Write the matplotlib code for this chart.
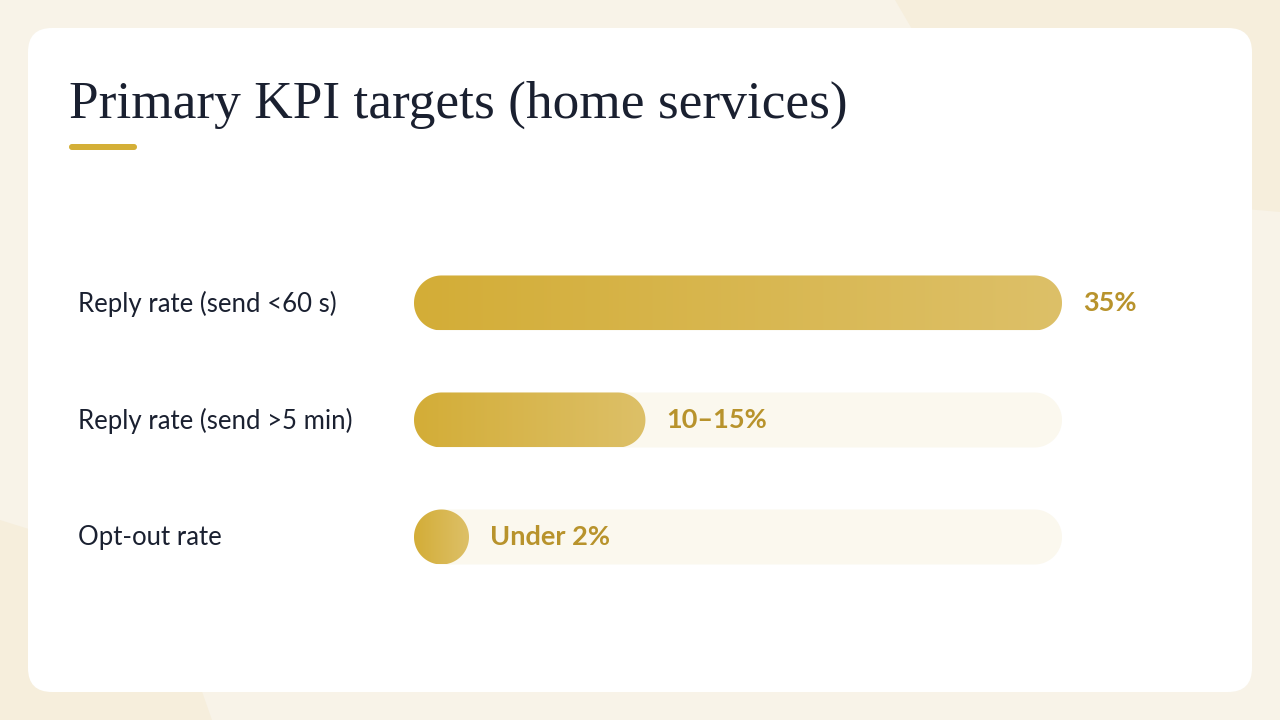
import numpy as np
import matplotlib.pyplot as plt
from matplotlib.patches import FancyBboxPatch, Polygon
from matplotlib.colors import LinearSegmentedColormap

# data
labels = ['Reply rate (send <60 s)', 'Reply rate (send >5 min)', 'Opt-out rate']
values = [35, 12.5, 2]          # midpoint used for the 10-15% range
value_text = ['35%', '10\u201315%', 'Under 2%']
scale_max = 35
title = 'Primary KPI targets (home services)'

GOLD_L = '#d3ad37'
GOLD_R = '#ddc068'
TRACK = '#fbf8ee'
VALUE_COL = '#b8932c'
INK = '#1a2030'

W, H = 1280, 720
fig = plt.figure(figsize=(W / 100, H / 100), dpi=100)
fig.patch.set_facecolor('#f8f3e8')

# background layer in pixel coords
bg = fig.add_axes([0, 0, 1, 1])
bg.set_xlim(0, W)
bg.set_ylim(H, 0)
bg.axis('off')
bg.add_patch(Polygon([[895, 0], [1280, 0], [1280, 212], [1200, 205], [1000, 150], [930, 60]],
                     closed=True, fc='#f6eedc', ec='none'))
bg.add_patch(Polygon([[0, 520], [80, 545], [170, 600], [212, 720], [0, 720]],
                     closed=True, fc='#f6eedc', ec='none'))
bg.add_patch(FancyBboxPatch((28, 28), 1224, 664, boxstyle='round,pad=0,rounding_size=24',
                            fc='white', ec='none'))

bg.text(69, 118, title, fontsize=38.4, family='Liberation Serif', color=INK,
        va='baseline', ha='left')
bg.add_patch(FancyBboxPatch((69, 144), 68, 6, boxstyle='round,pad=0,rounding_size=3',
                            fc='#d4af37', ec='none'))

# bars
ax_l, ax_r = 414, 1062
row_gap = 117
ax_top = 303 - row_gap / 2
ax = fig.add_axes([ax_l / W, 1 - (ax_top + 3 * row_gap) / H, (ax_r - ax_l) / W, 3 * row_gap / H])
ax.axis('off')

bar_h = 55 / row_gap
rx = 27.5 * scale_max / (ax_r - ax_l)   # end-cap radius in data x units
ry = bar_h / 2


def pill(w, yc, **kw):
    t = np.linspace(-np.pi / 2, np.pi / 2, 60)
    right = np.column_stack([w - rx + rx * np.cos(t), yc + ry * np.sin(t)])
    left = np.column_stack([rx - rx * np.cos(t), yc - ry * np.sin(t)])
    return Polygon(np.vstack([right, left]), closed=True, **kw)


cmap = LinearSegmentedColormap.from_list('gold', [GOLD_L, GOLD_R])
grad = np.linspace(0, 1, 256).reshape(1, -1)

for i, (lab, v, vt) in enumerate(zip(labels, values, value_text)):
    ax.add_patch(pill(scale_max, i, fc=TRACK, ec='none', zorder=1))
    w = max(v, 2 * rx)
    bar = pill(w, i, fc='none', ec='none', zorder=2)
    ax.add_patch(bar)
    im = ax.imshow(grad, cmap=cmap, aspect='auto', extent=(0, w, i + ry, i - ry),
                   interpolation='bilinear', zorder=3)
    im.set_clip_path(bar)
    ax.annotate(vt, (w, i), xytext=(21, 0), textcoords='offset pixels',
                fontsize=19.5, fontweight='bold', family='Lato', color=VALUE_COL,
                va='center', ha='left', zorder=4)
    bg.text(78, 304 + i * row_gap, lab, fontsize=18.5, family='Lato', color=INK,
            va='center', ha='left')

ax.set_xlim(0, scale_max)
ax.set_ylim(2.5, -0.5)

fig.savefig('out.png', dpi=100, facecolor=fig.get_facecolor())
